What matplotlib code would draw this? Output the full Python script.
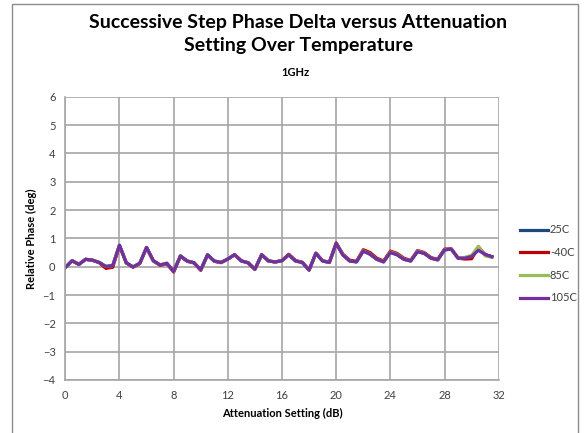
import matplotlib
matplotlib.use("Agg")
import matplotlib.pyplot as plt
from matplotlib.patches import Rectangle

# attenuation setting (dB)
atten = [0, 0.5, 1, 1.5, 2, 2.5, 3, 3.5, 4, 4.5, 5, 5.5, 6, 6.5, 7, 7.5,
         8, 8.5, 9, 9.5, 10, 10.5, 11, 11.5, 12, 12.5, 13, 13.5, 14, 14.5, 15, 15.5,
         16, 16.5, 17, 17.5, 18, 18.5, 19, 19.5, 20, 20.5, 21, 21.5, 22, 22.5, 23, 23.5,
         24, 24.5, 25, 25.5, 26, 26.5, 27, 27.5, 28, 28.5, 29, 29.5, 30, 30.5, 31, 31.5]

phase_25c = [-0.03, 0.21, 0.08, 0.26, 0.23, 0.15, 0.0, 0.03, 0.75, 0.14, -0.01, 0.12, 0.68, 0.21, 0.06, 0.12,
             -0.17, 0.38, 0.2, 0.14, -0.11, 0.42, 0.2, 0.15, 0.27, 0.42, 0.2, 0.14, -0.09, 0.42, 0.2, 0.17,
             0.21, 0.42, 0.2, 0.15, -0.12, 0.47, 0.2, 0.15, 0.82, 0.41, 0.2, 0.17, 0.56, 0.44, 0.26, 0.17,
             0.51, 0.42, 0.26, 0.2, 0.53, 0.47, 0.3, 0.24, 0.6, 0.62, 0.3, 0.3, 0.34, 0.62, 0.43, 0.35]
phase_m40c = [-0.03, 0.21, 0.08, 0.26, 0.23, 0.14, -0.06, -0.02, 0.74, 0.13, -0.02, 0.11, 0.67, 0.2, 0.05, 0.1,
              -0.19, 0.37, 0.19, 0.13, -0.13, 0.41, 0.19, 0.14, 0.27, 0.43, 0.21, 0.13, -0.1, 0.43, 0.21, 0.16,
              0.22, 0.44, 0.22, 0.15, -0.12, 0.48, 0.21, 0.16, 0.84, 0.44, 0.23, 0.19, 0.6, 0.5, 0.3, 0.2,
              0.55, 0.47, 0.3, 0.22, 0.57, 0.5, 0.32, 0.26, 0.62, 0.63, 0.3, 0.27, 0.28, 0.7, 0.42, 0.35]
phase_85c = [-0.03, 0.21, 0.08, 0.26, 0.23, 0.15, 0.01, 0.04, 0.76, 0.14, -0.01, 0.12, 0.68, 0.21, 0.06, 0.12,
             -0.17, 0.38, 0.2, 0.14, -0.11, 0.42, 0.2, 0.15, 0.27, 0.42, 0.2, 0.14, -0.09, 0.42, 0.2, 0.17,
             0.21, 0.42, 0.2, 0.15, -0.12, 0.47, 0.2, 0.15, 0.82, 0.42, 0.2, 0.17, 0.56, 0.45, 0.26, 0.17,
             0.52, 0.44, 0.27, 0.2, 0.55, 0.48, 0.3, 0.24, 0.6, 0.62, 0.3, 0.33, 0.4, 0.72, 0.38, 0.33]
phase_105c = [-0.03, 0.21, 0.08, 0.26, 0.23, 0.15, 0.01, 0.04, 0.76, 0.14, -0.01, 0.12, 0.68, 0.21, 0.06, 0.12,
              -0.17, 0.38, 0.2, 0.14, -0.11, 0.42, 0.2, 0.15, 0.27, 0.42, 0.2, 0.14, -0.09, 0.42, 0.2, 0.17,
              0.21, 0.42, 0.2, 0.15, -0.12, 0.47, 0.2, 0.15, 0.82, 0.41, 0.2, 0.17, 0.55, 0.44, 0.26, 0.17,
              0.5, 0.42, 0.26, 0.2, 0.53, 0.47, 0.3, 0.24, 0.59, 0.62, 0.3, 0.3, 0.36, 0.58, 0.43, 0.35]

series_names = ["25C", "-40C", "85C", "105C"]
series_colors = ["#1F497D", "#C00000", "#9BBB59", "#7030A0"]

x_ticks = [0, 4, 8, 12, 16, 20, 24, 28, 32]
y_ticks = [-4, -3, -2, -1, 0, 1, 2, 3, 4, 5, 6]

plt.rcParams['font.family'] = ['Lato', 'DejaVu Sans']

fig = plt.figure(figsize=(5.85, 4.33), dpi=100)
fig.patches.append(Rectangle((12 / 585, -0.01), 566 / 585, 1 - 4 / 433 + 0.01,
                             transform=fig.transFigure, fill=False,
                             edgecolor="#8C8C8C", linewidth=1.0))

ax = fig.add_axes([65.3 / 585, 1 - 380 / 433, 433.4 / 585, 283.3 / 433])

all_series = [phase_25c, phase_m40c, phase_85c, phase_105c]
for name, color, vals in zip(series_names, series_colors, all_series):
    ax.plot(atten, vals, color=color, linewidth=2.3, label=name, solid_joinstyle="round")

ax.set_xlim(0, 32)
ax.set_ylim(-4, 6)
ax.set_xticks(x_ticks)
ax.set_yticks(y_ticks)
ax.grid(True, color="#A6A6A6", linewidth=1.2)
ax.set_axisbelow(True)
for side in ["top", "right"]:
    ax.spines[side].set_visible(False)
for side in ["left", "bottom"]:
    ax.spines[side].set_color("#A6A6A6")
    ax.spines[side].set_linewidth(1.2)
ax.tick_params(length=0, labelsize=8, labelcolor="#404040", pad=7)

ax.set_xlabel("Attenuation Setting (dB)", fontsize=8, fontweight="bold", labelpad=5)
ax.set_ylabel("Relative Phase (deg)", fontsize=8, fontweight="bold", labelpad=4)

fig.text(298 / 585, 1 - 34 / 433, "Successive Step Phase Delta versus Attenuation\nSetting Over Temperature",
         ha="center", va="center", fontsize=14, fontweight="bold", linespacing=1.45)
fig.text(295 / 585, 1 - 72 / 433, "1GHz", ha="center", va="center", fontsize=8, fontweight="bold")

ax.legend(loc="upper left", bbox_to_anchor=(516 / 585, 1 - 220 / 433), bbox_transform=fig.transFigure,
          frameon=False, fontsize=8, handlelength=2.5, handletextpad=0.15, labelspacing=1.05,
          borderaxespad=0, labelcolor="#404040")

fig.savefig("out.png", dpi=100)
